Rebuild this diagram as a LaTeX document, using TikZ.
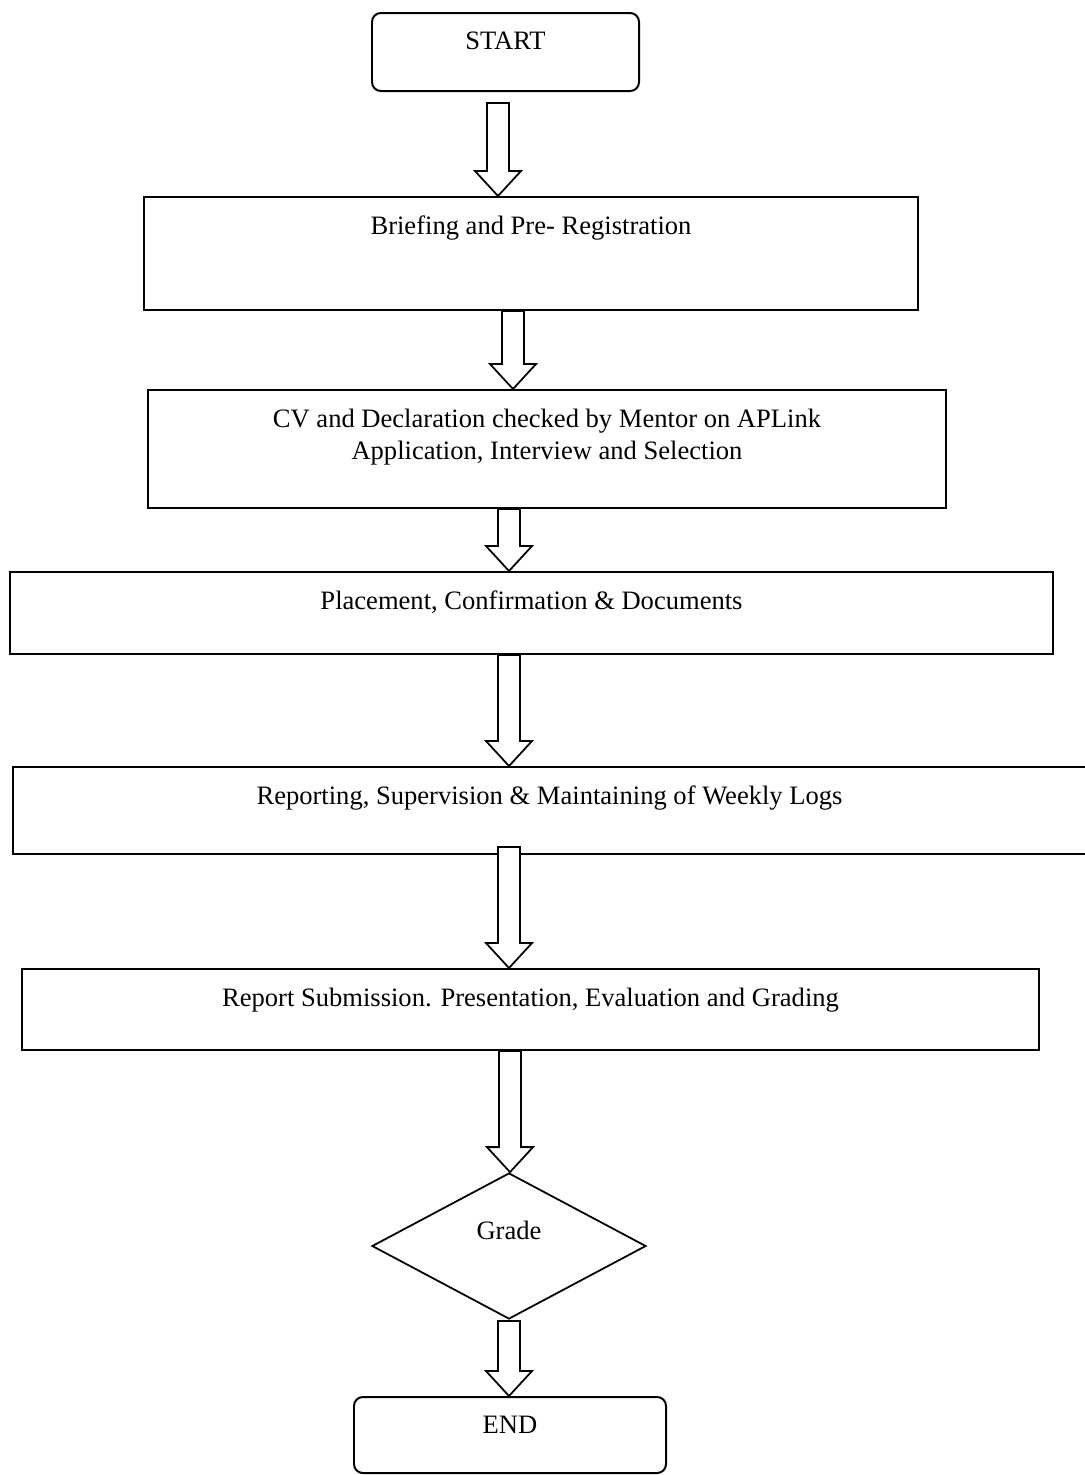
\documentclass[tikz,border=0pt]{standalone}
\usepackage{fontspec}
\setmainfont{Liberation Serif}
\usetikzlibrary{positioning, calc, shapes.geometric}

\newcommand{\pxu}{0.4517pt}
% hollow block arrow: #1 x, #2 shift of shaft top, #3 from, #4 to
\newcommand{\blockarrow}[4]{%
        \coordinate (ax) at (#1,0);
        \draw[hollow] ($(ax |- #3.south)+(-11,#2)$) -- ($(ax |- #4.north)+(-11,-25)$) -- ++(-12,0) -- (ax |- #4.north) -- ($(ax |- #4.north)+(23,-25)$) -- ++(-12,0) -- ($(ax |- #3.south)+(11,#2)$) -- cycle;
}

\begin{document}
\begin{tikzpicture}[x=\pxu, y=-\pxu, font=\fontsize{12}{14.5}\selectfont,
        stage/.style={draw, line width=0.9pt, inner sep=0pt},
        terminal/.style={stage, rounded corners=4pt},
        caption/.style={anchor=north, inner sep=0pt, yshift=-8.8pt, align=center},
        hollow/.style={draw, fill=white, line width=0.8pt, line join=miter}]
                \useasboundingbox (0,0) rectangle (1085,1475);
                \clip (0,0) rectangle (1085,1475);
                \node[terminal, minimum width=267*\pxu, minimum height=78*\pxu, label={[caption]north:START}] (start) at (505.5,52) {};
                \node[stage, minimum width=774*\pxu, minimum height=113*\pxu, label={[caption]north:Briefing and Pre- Registration}] (brief) at (531,253.5) {};
                \node[stage, minimum width=798*\pxu, minimum height=118*\pxu, label={[caption]north:CV and Declaration checked by Mentor on APLink\\Application, Interview and Selection}] (cv) at (547,449) {};
                \node[stage, minimum width=1043*\pxu, minimum height=82*\pxu, label={[caption]north:Placement, Confirmation \& Documents}] (place) at (531.5,613) {};
                \node[stage, minimum width=1073*\pxu, minimum height=87*\pxu, label={[caption]north:Reporting, Supervision \& Maintaining of Weekly Logs}] (report) at (549.5,810.5) {};
                \node[stage, minimum width=1017*\pxu, minimum height=81*\pxu, label={[caption]north:Report Submission. Presentation, Evaluation and Grading}] (submit) at (530.5,1009.5) {};
                \node[stage, diamond, line width=0.8pt, minimum width=274*\pxu, minimum height=146*\pxu, label={[yshift=7.2pt]center:Grade}] (grade) at (509,1246) {};
                \node[terminal, minimum width=312*\pxu, minimum height=76*\pxu, label={[caption]north:END}] (finish) at (510,1435) {};

                \blockarrow{498}{11}{start}{brief}
                \blockarrow{513}{0}{brief}{cv}
                \blockarrow{509}{0}{cv}{place}
                \blockarrow{509}{0}{place}{report}
                \blockarrow{509}{-8}{report}{submit}
                \blockarrow{510}{0}{submit}{grade}
                \blockarrow{509}{1}{grade}{finish}
            \end{tikzpicture}
\end{document}
